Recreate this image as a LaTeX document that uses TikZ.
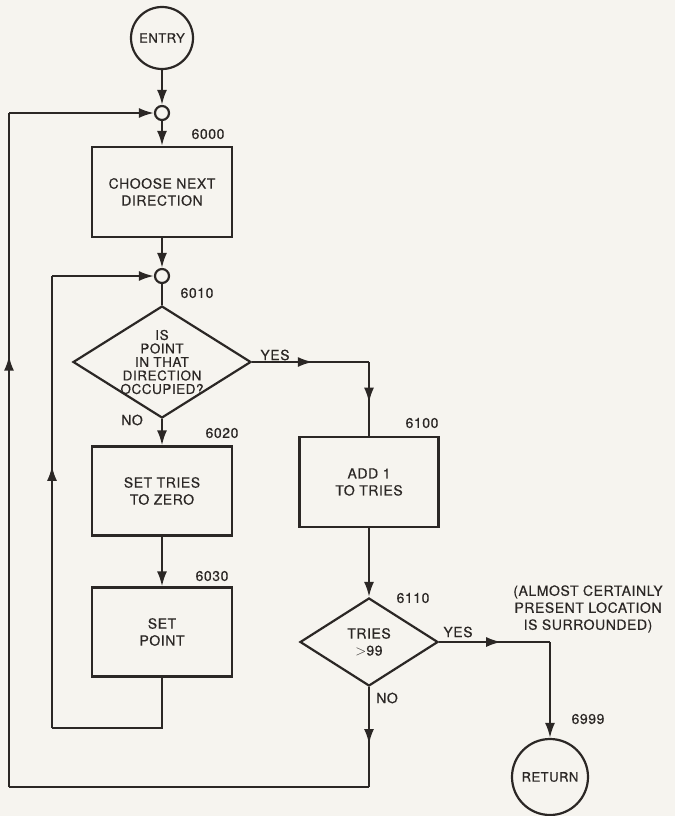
\documentclass[tikz,border=0pt]{standalone}
\usepackage{fontspec}
\setmainfont{TeX Gyre Heros}[LetterSpace=4,FakeBold=0.4]
\usetikzlibrary{arrows.meta,shapes.geometric,decorations.markings}

\definecolor{ink}{HTML}{2B2725}
\definecolor{paper}{HTML}{F6F4EF}

\newcommand\flowfont{\fontsize{14}{17}\selectfont}
\newcommand\askfont{\fontsize{13.5}{13.5}\selectfont}
\newcommand\numfont{\fontsize{14}{15}\selectfont}

\tikzset{
  flow/.style={ink,line width=2.2pt},
  midarrow/.style={postaction={decorate},
    decoration={markings,mark=at position #1 with {\arrow{Latex[length=15pt,width=10pt]}}}},
  procbox/.style={draw=ink,line width=2.2pt,rectangle,minimum width=140pt,
    minimum height=90pt,align=center,text=ink,font=\flowfont},
  decision/.style={draw=ink,line width=2.2pt,diamond,inner sep=0pt},
  asktext/.style={align=center,text=ink,font=\askfont},
  termcircle/.style={draw=ink,line width=2.2pt,circle,inner sep=0pt,text=ink,
    font=\fontsize{13}{14}\selectfont},
  junction/.style={draw=ink,line width=2.2pt,circle,inner sep=0pt,minimum size=14pt},
  numlabel/.style={text=ink,font=\numfont},
  answer/.style={text=ink,font=\numfont}
}

\begin{document}
\begin{tikzpicture}[x=1pt,y=-1pt,>={Latex[length=15pt,width=10pt]}]
\fill[paper] (0,0) rectangle (675,816);
\useasboundingbox (0,0) rectangle (675,816);
% left column
\node[termcircle,minimum size=62pt] (entry) at (162,38) {ENTRY};
\node[junction] (j1) at (162,113) {};
\node[procbox] (b6000) at (162,192) {CHOOSE NEXT\\DIRECTION};
\node[junction] (j2) at (162,276) {};
\node[decision,minimum width=178pt,minimum height=112pt,
  label={[asktext]center:IS\\POINT\\IN THAT\\DIRECTION\\OCCUPIED?}] (d6010) at (162,362) {};
\node[procbox,minimum height=89pt] (b6020) at (162,491) {SET TRIES\\TO ZERO};
\node[procbox,minimum height=89pt] (b6030) at (162,632) {SET\\POINT};
% right column
\node[procbox,minimum width=139pt] (b6100) at (369,482) {ADD 1\\TO TRIES};
\node[decision,minimum width=138pt,minimum height=88pt,
  label={[asktext,font=\flowfont]center:TRIES\\$>$99}] (d6110) at (369,642) {};
\node[termcircle,minimum size=76pt] (ret) at (550,777) {RETURN};
% line numbers
\node[numlabel] (n6000) at (208,134) {6000};
\node[numlabel] (n6010) at (197,293) {6010};
\node[numlabel] (n6020) at (222,433) {6020};
\node[numlabel] (n6030) at (212,576) {6030};
\node[numlabel] (n6100) at (422,423) {6100};
\node[numlabel] (n6110) at (413,598) {6110};
\node[numlabel] (n6999) at (588,719) {6999};
% answers
\node[answer] (yes1) at (275,355) {YES};
\node[answer] (no1) at (132,420) {NO};
\node[answer] (yes2) at (458,632) {YES};
\node[answer] (no2) at (387,698) {NO};
\node[asktext,font=\flowfont] (note) at (588,609)
  {(ALMOST CERTAINLY\\PRESENT LOCATION\\IS SURROUNDED)};
% bends
\coordinate (yesbend) at (369,362);
\coordinate (retbend) at (550,642);
\coordinate (innerbot) at (162,728);
\coordinate (innerbl) at (52,728);
\coordinate (innertl) at (52,276);
\coordinate (outerbot) at (369,787);
\coordinate (outerbl) at (9,787);
\coordinate (outertl) at (9,113);
% connectors
\draw[flow,->] (entry) -- (j1);
\draw[flow,->] (j1) -- (b6000);
\draw[flow,->] (b6000) -- (j2);
\draw[flow] (j2) -- (d6010);
\draw[flow,->] (d6010.south) -- (b6020.north);
\draw[flow,->] (b6020) -- (b6030);
\draw[flow,midarrow=0.52] (d6010.east) -- (yesbend);
\draw[flow,midarrow=0.55] (yesbend) -- (b6100.north);
\draw[flow,->] (b6100.south) -- (d6110.north);
\draw[flow,midarrow=0.56] (d6110.east) -- (retbend);
\draw[flow,->] (retbend) -- (ret.north);
% inner loop
\draw[flow] (b6030.south) -- (innerbot) -- (innerbl);
\draw[flow,midarrow=0.58] (innerbl) -- (innertl);
\draw[flow,->] (innertl) -- (j2.west);
% outer loop
\draw[flow,midarrow=0.57] (d6110.south) -- (outerbot);
\draw[flow] (outerbot) -- (outerbl);
\draw[flow,midarrow=0.64] (outerbl) -- (outertl);
\draw[flow,->] (outertl) -- (j1.west);
\end{tikzpicture}
\end{document}
